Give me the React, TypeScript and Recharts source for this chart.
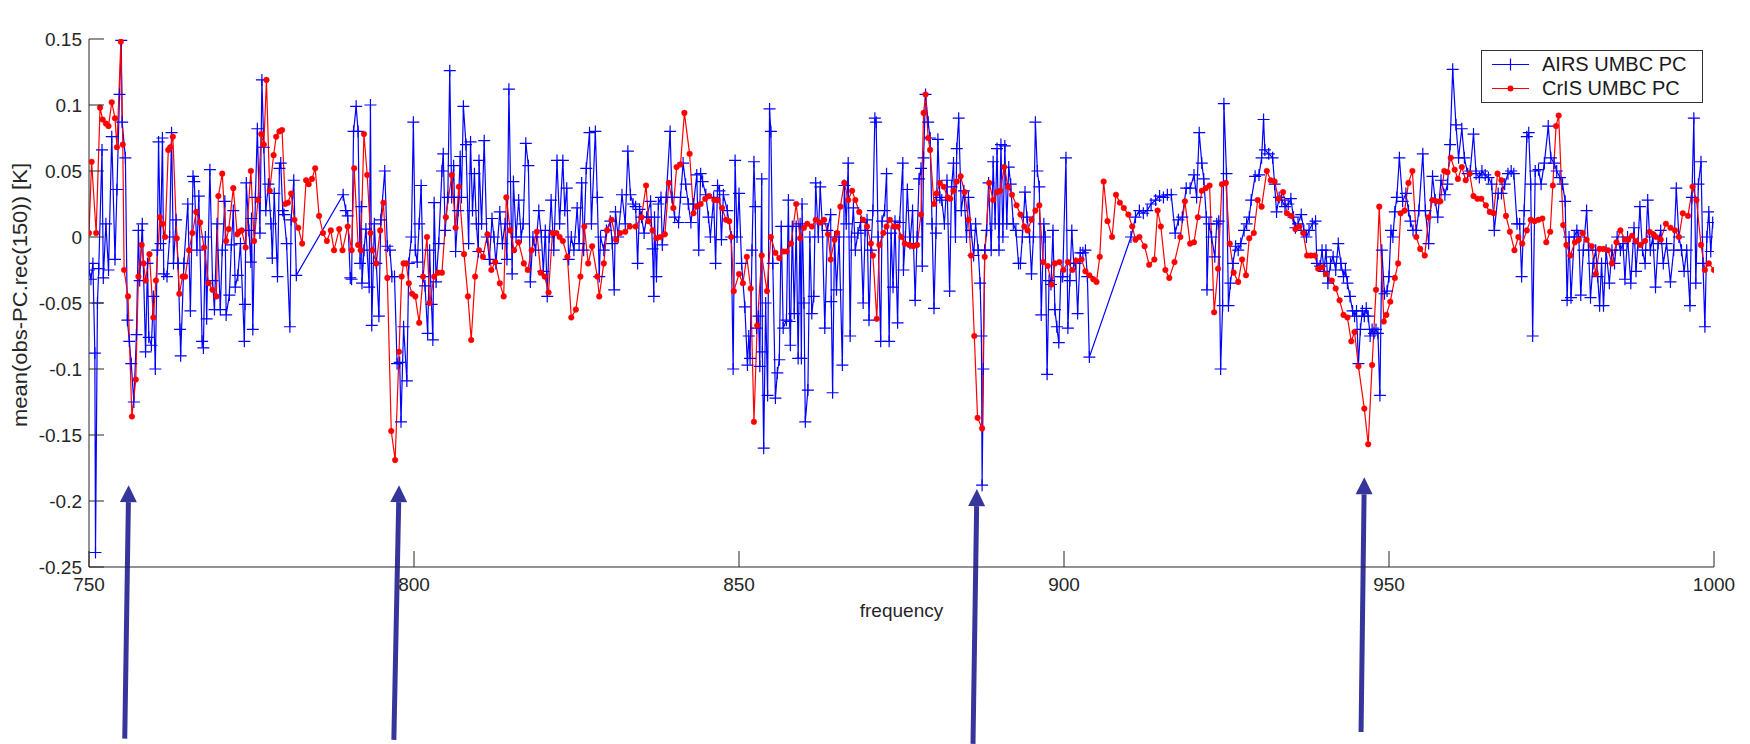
import { LineChart, Line, XAxis, YAxis, ReferenceLine, Legend } from "recharts";

const TITLE = "AIRS and CrIS clear Tropical Ocean SNO from April 2014";
const X_LABEL = "frequency";
const Y_LABEL = "mean(obs-PC.rec(150)) [K]";

const xTicks = [750, 800, 850, 900, 950, 1000];
const yTicks = [-0.25, -0.2, -0.15, -0.1, -0.05, 0, 0.05, 0.1, 0.15];

// AIRS UMBC PC  [frequency, value]
const airs750: [number, number][] = [
  [750.0, -0.025], [750.3, -0.032], [750.6, -0.02], [750.9, -0.088], [751.0, -0.239], [751.3, -0.05], [751.5, -0.024],
  [752.0, 0.066], [752.2, -0.031], [752.6, 0.01], [753.0, -0.025], [753.5, 0.076], [754.0, -0.017], [754.3, 0.036],
  [754.7, 0.108], [754.96, 0.149], [755.1, 0.087], [755.6, 0.06], [755.9, -0.063], [756.2, -0.079], [756.5, -0.096],
  [756.9, -0.125], [757.3, -0.074], [757.6, 0.005], [757.8, -0.033], [758.2, 0.01], [758.7, -0.087], [759.0, -0.02],
  [759.2, -0.076], [759.6, -0.082], [759.9, -0.045], [760.2, -0.1], [760.5, -0.01], [760.7, 0.072], [761.0, -0.005],
  [761.3, 0.075], [761.5, -0.028], [762.0, -0.03], [762.4, 0.0], [762.7, 0.079], [763.0, -0.02], [763.4, 0.013],
  [763.7, -0.02], [764.0, -0.07], [764.1, -0.09], [764.6, -0.02], [765.2, 0.025], [765.6, -0.056], [766.0, 0.046],
  [766.2, 0.042], [766.6, -0.01], [766.9, 0.031], [767.4, -0.079], [767.6, -0.084], [767.9, 0.0], [768.1, -0.062],
  [768.6, 0.051], [769.0, -0.033], [769.3, -0.055], [769.7, 0.01], [770.2, -0.055], [770.5, -0.01], [770.9, 0.027],
  [771.1, -0.059], [771.6, -0.044], [771.9, -0.006], [772.2, 0.02], [772.5, -0.038], [772.9, -0.029], [773.3, -0.005],
  [773.9, -0.079], [774.0, -0.051], [774.2, 0.041], [774.6, 0.005], [774.9, -0.019], [775.0, 0.014], [775.2, -0.07],
  [775.6, 0.03], [775.9, 0.082], [776.3, 0.003], [776.6, 0.119], [776.9, 0.068], [777.2, 0.02], [777.6, 0.04],
  [778.0, 0.01], [778.2, -0.016], [778.5, 0.033], [779.0, -0.03], [779.3, 0.052], [779.5, 0.056], [779.8, 0.02],
  [780.0, 0.017], [780.4, -0.005], [780.9, -0.068], [781.1, 0.013], [781.5, 0.043], [781.9, -0.029], [789.1, 0.032],
  [789.5, 0.02], [789.8, 0.016], [790.2, -0.031], [790.4, -0.032], [790.7, 0.08], [791.1, 0.099], [791.4, 0.08],
  [791.7, -0.02], [791.9, 0.023], [792.0, -0.035], [792.3, -0.01], [792.6, 0.006], [793.1, -0.038], [793.3, 0.1],
  [793.5, -0.067], [793.9, 0.01], [794.2, -0.02], [794.6, -0.06], [794.9, 0.013], [795.5, 0.05], [795.9, -0.007],
  [796.3, -0.01], [796.6, -0.03], [797.0, -0.03], [797.4, -0.096], [797.8, -0.095], [798.0, -0.14], [798.4, -0.068],
  [798.9, -0.109], [799.2, -0.02], [799.6, 0.0], [799.9, 0.087],
];

const airs800: [number, number][] = [
  [800.2, -0.01], [800.5, -0.019], [800.8, 0.01], [801.1, 0.039], [801.4, -0.03], [801.7, -0.037], [802.1, -0.073],
  [802.4, -0.01], [802.7, -0.051], [802.9, -0.078], [803.1, 0.026], [803.4, -0.034], [803.8, -0.005], [804.3, 0.05],
  [804.5, 0.063], [804.8, 0.005], [805.2, 0.03], [805.5, 0.126], [805.8, 0.03], [806.1, 0.054], [806.4, -0.011],
  [806.8, 0.02], [807.1, 0.061], [807.3, 0.03], [807.6, 0.099], [808.0, 0.07], [808.4, -0.005], [808.7, 0.072],
  [809.0, 0.02], [809.3, 0.048], [809.6, 0.01], [809.9, -0.011], [810.0, 0.058], [810.4, 0.01], [810.8, 0.073],
  [811.2, 0.0], [811.6, -0.017], [812.0, 0.014], [812.3, 0.0], [812.6, -0.02], [813.2, 0.019], [813.6, -0.005],
  [814.0, 0.01], [814.3, -0.017], [814.6, 0.112], [815.1, -0.028], [815.3, 0.042], [815.7, 0.0], [816.1, 0.028],
  [816.5, 0.0], [816.8, 0.01], [817.2, 0.071], [817.6, 0.054], [817.9, -0.034], [818.3, 0.0], [818.7, -0.01],
  [819.2, 0.02], [819.6, 0.0], [819.9, -0.026], [820.2, 0.005], [820.5, -0.045], [820.8, 0.0], [821.1, 0.028],
  [821.5, -0.01], [822.0, 0.058], [822.4, 0.01], [822.9, 0.058], [823.2, 0.02], [823.5, 0.037], [823.8, -0.017],
  [824.2, 0.0], [824.6, -0.01], [825.1, 0.022], [825.4, -0.005], [825.8, 0.041], [826.1, -0.01], [826.5, 0.052],
  [827.0, 0.079], [827.3, 0.01], [827.9, 0.08], [828.2, 0.03], [828.5, -0.03], [828.7, 0.0], [829.2, -0.01],
  [829.6, 0.005], [830.2, 0.012], [830.5, -0.005], [830.8, -0.04], [831.0, 0.019], [831.4, 0.0], [832.0, 0.032],
  [832.5, 0.01], [832.9, 0.065], [833.3, 0.032], [833.7, 0.025], [834.1, 0.023], [834.4, -0.02], [834.7, 0.021],
  [835.0, 0.015], [835.4, 0.003], [835.8, 0.015], [836.4, 0.027], [836.7, -0.009], [836.9, -0.045], [837.0, 0.015],
  [837.3, -0.03], [837.6, 0.025], [838.0, 0.03], [838.2, -0.006], [838.8, 0.03], [839.4, 0.08], [839.7, 0.03],
  [840.1, 0.015], [840.7, 0.011], [841.0, 0.03], [841.4, 0.056], [841.8, 0.04], [842.2, 0.025], [842.6, 0.011],
  [843.0, 0.025], [843.5, 0.047], [843.8, -0.01], [844.1, 0.048], [844.4, 0.042], [844.9, 0.032], [845.3, 0.015],
  [845.6, 0.0], [846.1, 0.03], [846.4, -0.02], [846.7, 0.039], [847.0, 0.035], [847.3, -0.002], [847.6, 0.032],
  [848.2, 0.02], [848.8, 0.0], [849.1, -0.1], [849.4, 0.058], [849.7, 0.0],
];

const airs850: [number, number][] = [
  [850.0, 0.033], [850.4, -0.02], [850.9, -0.053], [851.3, -0.097], [851.5, -0.075], [851.7, -0.092], [852.0, -0.01],
  [852.3, 0.057], [852.5, 0.023], [852.7, -0.069], [853.0, -0.06], [853.2, -0.098], [853.5, 0.044], [853.6, -0.087],
  [853.8, -0.16], [854.1, -0.05], [854.4, -0.12], [854.7, 0.097], [854.9, 0.08], [855.2, -0.02], [855.6, -0.122],
  [855.9, -0.103], [856.2, -0.093], [856.5, 0.008], [856.8, -0.069], [857.3, -0.063], [857.6, 0.028], [857.8, -0.064],
  [857.9, -0.082], [858.2, 0.008], [858.5, -0.058], [858.8, 0.008], [859.1, -0.092], [859.4, 0.01], [859.6, -0.092],
  [859.7, 0.025], [860.0, -0.05], [860.2, -0.14], [860.6, -0.116], [860.9, 0.0], [861.2, -0.058], [861.5, -0.045],
  [861.8, 0.041], [862.2, 0.0], [862.5, 0.038], [862.8, 0.01], [863.2, -0.069], [863.6, 0.005], [864.1, 0.017],
  [864.2, -0.049], [864.4, -0.118], [864.7, 0.0], [865.0, -0.04], [865.4, 0.0], [865.9, -0.097], [866.2, 0.039],
  [866.5, 0.01], [866.8, 0.056], [867.1, -0.075], [867.3, 0.0], [867.6, 0.022], [867.9, -0.01], [868.3, 0.003],
  [868.7, 0.011], [869.1, -0.05], [869.4, 0.005], [869.7, 0.013], [870.0, -0.063], [870.3, -0.01], [870.6, 0.02],
  [870.9, 0.09], [871.1, 0.087], [871.4, 0.0], [871.8, -0.079], [872.0, 0.012], [872.4, 0.02], [872.7, 0.048],
  [873.1, -0.079], [873.4, 0.003], [873.7, -0.038], [874.0, 0.012], [874.4, -0.065], [874.7, 0.011], [875.2, 0.056],
  [875.3, -0.025], [875.6, 0.0], [875.9, 0.036], [876.3, -0.005], [876.7, 0.02], [877.1, -0.048], [877.4, 0.0],
  [877.7, 0.044], [878.0, 0.052], [878.2, -0.022], [878.4, 0.06], [878.7, 0.108], [879.1, 0.087], [879.4, 0.075],
  [879.7, 0.01], [880.0, -0.054], [880.3, 0.003], [880.6, 0.074], [880.9, 0.03], [881.2, 0.028], [881.6, 0.01],
  [882.0, 0.043], [882.4, -0.041], [882.7, 0.038], [883.0, 0.056], [883.3, 0.0], [883.5, 0.067], [883.8, 0.09],
  [884.2, 0.02], [884.6, 0.035], [885.0, 0.0], [885.3, 0.03], [885.7, 0.005], [886.1, -0.014], [886.4, 0.01],
  [886.8, -0.01], [887.1, -0.035], [887.3, -0.075], [887.4, -0.188], [887.6, -0.1], [887.8, -0.01], [888.1, 0.005],
  [888.4, 0.041], [888.8, -0.01], [889.1, 0.057], [889.4, 0.01], [889.7, 0.067], [890.0, -0.01], [890.3, 0.07],
  [890.6, 0.0], [890.9, 0.069], [891.2, 0.01], [891.5, 0.053], [891.8, 0.04], [892.2, 0.01], [892.6, 0.005],
  [893.0, -0.02], [893.3, -0.02], [893.6, 0.0], [894.0, 0.034], [894.3, 0.015], [894.7, 0.0], [895.0, -0.028],
  [895.3, 0.0], [895.6, 0.087], [895.9, 0.05], [896.2, 0.038], [896.5, -0.059], [896.9, 0.01], [897.1, 0.0],
  [897.4, -0.104], [897.7, -0.033], [898.0, -0.036], [898.3, 0.005], [898.6, -0.055], [898.9, -0.068], [899.2, -0.08],
  [899.5, -0.03], [899.8, -0.03],
];

const airs900: [number, number][] = [
  [900.3, 0.06], [900.6, -0.069], [900.9, -0.033], [901.2, 0.005], [901.5, -0.02], [901.8, -0.02], [902.1, -0.058],
  [902.5, -0.012], [902.9, -0.012], [903.3, -0.01], [903.6, -0.03], [903.9, -0.091], [910.3, 0.0], [911.0, 0.015],
  [911.6, 0.02], [912.2, 0.018], [912.8, 0.02], [913.4, 0.025], [914.1, 0.028], [914.7, 0.031], [915.3, 0.03],
  [915.9, 0.032], [916.5, 0.032], [917.1, 0.003], [917.6, 0.013], [918.2, 0.015], [918.8, 0.037], [919.4, 0.037],
  [920.0, 0.047], [920.4, 0.03], [920.8, 0.079], [921.2, 0.056], [921.5, 0.044], [921.9, 0.015], [922.0, -0.04],
  [922.3, 0.01], [922.7, 0.0], [923.2, -0.015], [923.5, 0.01], [923.8, 0.012], [924.1, -0.1], [924.4, -0.052],
  [924.6, 0.101], [925.0, 0.048], [925.3, -0.052], [925.6, -0.035], [926.0, -0.02], [926.4, -0.007], [926.8, -0.01],
  [927.2, -0.005], [927.7, 0.005], [928.1, 0.01], [928.5, 0.015], [928.8, 0.028], [929.4, 0.046], [930.0, 0.047],
  [930.4, 0.06], [930.7, 0.089], [930.9, 0.066], [931.5, 0.063], [932.1, 0.06], [932.4, 0.04], [932.7, 0.019],
  [933.1, 0.03], [933.5, 0.028], [934.0, 0.023], [934.5, 0.025], [934.9, 0.029], [935.3, 0.015], [935.6, 0.007],
  [936.0, 0.01], [936.5, 0.017], [936.9, 0.005], [937.3, 0.0], [937.7, 0.005], [938.2, 0.01], [938.7, 0.012],
  [938.9, -0.02], [939.4, -0.022], [939.7, -0.01], [940.0, -0.026], [940.3, -0.01], [940.6, -0.035], [941.0, -0.02],
  [941.4, -0.015], [941.8, -0.025], [942.2, -0.005], [942.6, -0.02], [943.0, -0.03], [943.3, -0.025], [943.6, -0.035],
  [944.0, -0.045], [944.4, -0.056], [944.7, -0.06], [945.0, -0.056], [945.3, -0.096], [945.6, -0.07], [945.9, -0.056],
  [946.2, -0.06], [946.5, -0.054], [946.8, -0.06], [947.1, -0.075], [947.4, -0.07], [947.7, -0.073], [948.0, -0.07],
  [948.3, -0.073], [948.6, -0.12], [948.9, -0.01], [949.3, -0.043], [949.7, -0.041],
];

const airs950: [number, number][] = [
  [950.0, -0.03], [950.3, 0.005], [950.6, 0.0], [950.9, 0.019], [951.2, 0.03], [951.6, 0.06], [952.1, 0.027],
  [952.6, 0.033], [953.0, 0.02], [953.3, 0.012], [953.7, 0.005], [954.2, 0.005], [954.6, 0.02], [955.2, 0.063],
  [955.6, 0.02], [956.1, -0.005], [956.7, 0.046], [957.1, 0.028], [957.5, 0.015], [958.0, 0.043], [958.6, 0.032],
  [959.0, 0.04], [959.4, 0.07], [959.8, 0.127], [960.3, 0.085], [960.7, 0.06], [961.2, 0.082], [961.6, 0.06],
  [962.1, 0.048], [962.5, 0.05], [963.0, 0.078], [963.4, 0.048], [963.9, 0.045], [964.3, 0.05], [964.8, 0.047],
  [965.3, 0.045], [965.8, 0.04], [966.2, 0.005], [966.8, 0.033], [967.3, 0.033], [967.8, 0.04], [968.3, 0.048],
  [968.8, 0.05], [969.2, 0.048], [969.7, 0.01], [970.1, 0.01], [970.4, -0.03], [970.8, 0.02], [971.2, 0.076],
  [971.5, 0.079], [971.8, 0.04], [972.1, -0.075], [972.5, 0.05], [973.0, 0.051], [973.4, 0.04], [973.9, 0.056],
  [974.5, 0.084], [974.9, 0.06], [975.4, 0.056], [975.8, 0.05], [976.3, 0.045], [976.7, 0.04], [977.1, 0.027],
  [977.4, -0.048], [977.7, 0.0], [978.0, -0.046], [978.5, 0.0], [978.9, 0.005], [979.2, 0.0], [979.5, -0.044],
  [979.9, -0.01], [980.4, 0.02], [980.7, -0.01], [981.0, -0.046], [981.4, -0.02], [981.8, -0.01], [982.1, -0.03],
  [982.4, -0.052], [982.7, -0.02], [983.0, -0.052], [983.4, -0.01], [983.9, -0.035], [984.3, -0.01], [984.7, -0.02],
  [985.1, 0.0], [985.6, -0.01], [986.0, -0.005], [986.3, -0.032], [986.7, 0.0], [987.2, -0.035], [987.7, 0.007],
  [988.0, -0.026], [988.3, -0.005], [988.6, 0.023], [989.0, -0.01], [989.4, -0.02], [989.8, 0.028], [990.2, -0.01],
  [990.6, 0.0], [991.0, -0.038], [991.4, -0.005], [991.8, 0.005], [992.2, -0.02], [992.7, -0.005], [993.3, -0.034],
  [993.8, -0.01], [994.2, 0.037], [994.6, 0.0], [995.0, -0.01], [995.4, -0.026], [995.8, -0.01], [996.3, -0.052],
  [996.6, 0.03], [996.9, 0.09], [997.2, -0.035], [997.6, 0.04], [998.0, 0.057], [998.3, -0.02], [998.6, -0.068],
  [998.9, 0.0], [999.2, 0.019], [999.5, -0.011], [999.8, 0.011],
];

// CrIS UMBC PC  [frequency, value]
const cris750: [number, number][] = [
  [750.0, 0.003], [750.4, 0.057], [751.1, 0.003], [751.7, 0.098], [752.1, 0.089], [752.6, 0.086], [753.0, 0.084],
  [753.5, 0.102], [754.0, 0.09], [754.3, 0.068], [754.9, 0.148], [755.2, 0.07], [755.4, -0.025], [756.0, -0.045],
  [756.6, -0.136], [757.2, -0.108], [757.6, -0.03], [758.1, -0.006], [758.4, -0.02], [758.7, -0.033], [759.3, -0.013],
  [759.9, -0.061], [760.3, -0.033], [760.9, 0.015], [761.3, 0.01], [761.7, 0.0], [762.2, 0.066], [762.5, 0.068],
  [762.9, 0.076], [763.5, -0.001], [763.9, -0.043], [764.4, -0.03], [764.8, -0.03], [765.4, -0.01], [765.9, 0.003],
  [766.5, 0.019], [767.1, 0.011], [767.7, -0.008], [768.4, -0.035], [769.0, -0.04], [769.6, -0.045], [769.9, 0.031],
  [770.5, 0.048], [771.1, -0.003], [771.5, 0.006], [772.2, 0.037], [772.8, 0.002], [773.1, 0.004], [773.5, 0.005],
  [774.1, -0.008], [774.9, 0.05], [775.4, -0.003], [776.0, 0.028], [776.5, 0.078], [776.9, 0.07], [777.3, 0.119],
  [777.8, 0.035], [778.4, 0.062], [778.8, 0.076], [779.3, 0.08], [779.7, 0.081], [780.2, 0.025], [780.6, 0.026],
  [781.1, 0.033], [781.6, 0.013], [782.2, 0.007], [782.8, -0.005], [783.4, 0.043], [783.8, 0.04], [784.3, 0.044],
  [784.8, 0.052], [785.4, 0.016], [786.0, 0.003], [786.6, -0.003], [787.2, 0.005], [787.7, -0.01], [788.5, 0.006],
  [789.0, -0.01], [789.8, 0.008], [790.4, -0.01], [790.8, 0.052], [791.4, -0.006], [791.8, -0.01], [792.3, 0.078],
  [792.8, 0.047], [793.3, 0.003], [793.6, -0.01], [794.2, -0.02], [794.8, 0.005], [795.3, 0.026], [795.9, -0.031],
  [796.5, -0.147], [797.1, -0.169], [797.7, -0.087], [798.1, -0.03], [798.4, -0.02], [798.8, -0.02], [799.2, -0.035],
  [799.7, -0.043],
];

const cris800: [number, number][] = [
  [800.2, -0.045], [800.8, -0.065], [801.4, -0.03], [802.0, 0.0], [802.4, -0.05], [803.1, -0.03], [803.7, -0.027],
  [804.3, -0.027], [804.9, 0.015], [805.8, 0.047], [806.4, 0.007], [806.9, 0.038], [807.7, -0.013], [808.3, -0.045],
  [808.8, -0.078], [809.4, -0.03], [810.0, -0.01], [810.6, -0.015], [811.3, 0.002], [811.9, -0.025], [812.5, -0.019],
  [813.2, -0.035], [813.8, -0.045], [814.2, 0.03], [814.8, 0.005], [815.4, -0.01], [816.1, -0.004], [816.9, -0.02],
  [817.5, -0.025], [818.1, -0.01], [818.9, 0.004], [819.5, -0.027], [820.1, -0.03], [820.7, -0.042], [821.3, 0.003],
  [821.9, 0.003], [822.4, 0.0], [822.9, -0.003], [823.6, -0.015], [824.2, -0.061], [824.9, -0.055], [825.6, -0.03],
  [826.2, 0.008], [826.8, -0.02], [827.4, -0.007], [828.2, -0.03], [828.5, -0.045], [829.2, -0.02], [829.7, 0.005],
  [830.4, 0.013], [831.1, -0.002], [831.7, 0.003], [832.5, 0.004], [833.2, 0.008], [834.1, 0.008], [835.0, 0.015],
  [835.7, 0.039], [836.1, 0.012], [836.7, 0.005], [837.3, -0.001], [837.9, 0.0], [838.6, 0.002], [839.2, 0.041],
  [839.9, 0.022], [840.4, 0.053], [841.0, 0.055], [841.6, 0.094], [842.4, 0.063], [843.0, 0.018], [843.5, 0.023],
  [844.1, 0.025], [844.8, 0.029], [845.4, 0.031], [846.2, 0.028], [846.7, 0.028], [847.4, 0.022], [848.0, 0.013],
  [848.5, 0.012], [848.8, 0.0], [849.2, -0.041], [850.0, -0.028],
];

const cris850: [number, number][] = [
  [850.6, -0.035], [851.2, -0.015], [851.8, -0.039], [852.3, -0.14], [852.8, -0.067], [853.5, -0.014], [854.3, -0.041],
  [854.9, 0.0], [855.6, -0.012], [856.2, -0.016], [856.8, -0.011], [857.3, -0.011], [858.0, -0.005], [858.8, 0.025],
  [859.4, -0.001], [860.0, 0.007], [860.5, 0.01], [861.2, 0.008], [861.8, 0.013], [862.5, 0.011], [863.1, 0.013],
  [863.7, 0.002], [864.1, -0.017], [864.7, -0.002], [865.1, 0.003], [865.6, 0.023], [866.2, 0.041], [866.8, 0.028],
  [867.4, 0.035], [867.9, 0.028], [868.5, 0.019], [869.1, 0.013], [869.7, 0.008], [870.3, -0.005], [870.6, -0.014],
  [871.2, -0.062], [871.6, -0.006], [872.2, 0.003], [872.7, 0.008], [873.2, 0.013], [873.8, 0.008], [874.4, 0.008],
  [875.0, 0.0], [875.5, -0.005], [876.2, -0.006], [876.8, -0.007], [877.4, -0.006], [878.0, 0.017], [878.4, 0.094],
  [878.7, 0.108], [879.1, 0.075], [879.4, 0.066], [880.0, 0.025], [880.4, 0.033], [880.9, 0.041], [881.5, 0.038],
  [882.1, 0.03], [882.5, 0.029], [883.0, 0.035], [883.5, 0.042], [884.1, 0.046], [884.7, 0.034], [885.3, 0.013],
  [885.7, -0.014], [886.2, -0.075], [886.7, -0.137], [887.4, -0.145], [887.8, -0.015], [888.5, 0.041], [889.1, 0.028],
  [889.7, 0.034], [890.2, 0.035], [890.8, 0.053], [891.4, 0.038], [892.0, 0.032], [892.7, 0.024], [893.3, 0.017],
  [893.9, 0.008], [894.4, 0.005], [895.0, 0.013], [895.6, 0.02], [896.2, 0.024], [896.8, -0.019], [897.5, -0.022],
  [898.1, -0.036], [898.6, -0.02], [899.3, -0.019], [899.9, -0.025],
];

const cris900: [number, number][] = [
  [900.6, -0.019], [901.3, -0.025], [901.9, -0.018], [902.7, -0.017], [903.3, -0.026], [903.9, -0.029], [904.5, -0.032],
  [905.0, -0.034], [905.5, -0.015], [906.1, 0.042], [906.7, 0.012], [907.4, 0.0], [908.0, 0.032], [908.6, 0.026],
  [909.2, 0.022], [909.9, 0.017], [910.5, 0.008], [911.0, -0.002], [911.6, 0.0], [912.4, -0.007], [913.1, -0.021],
  [913.9, -0.017], [914.4, 0.02], [914.9, 0.008], [915.6, -0.025], [916.2, -0.031], [917.0, -0.019], [917.9, 0.0],
  [918.6, 0.027], [919.4, -0.005], [920.0, -0.004], [920.6, 0.015], [921.2, 0.035], [921.8, 0.037], [922.4, 0.039],
  [923.1, -0.057], [923.7, -0.024], [924.3, 0.04], [924.9, 0.041], [925.5, -0.005], [926.1, -0.027], [926.8, -0.034],
  [927.4, -0.017], [928.0, -0.029], [928.5, -0.001], [929.2, 0.003], [929.8, 0.028], [930.4, 0.023], [931.2, 0.05],
  [931.8, 0.043], [932.4, 0.042], [933.0, 0.029], [933.7, 0.034], [934.3, 0.018], [935.0, 0.016], [935.6, 0.006],
  [936.2, 0.008], [936.8, 0.003], [937.4, -0.014], [938.0, -0.014], [938.6, -0.014], [939.1, -0.024], [939.7, -0.023],
  [940.3, -0.028], [941.2, -0.033], [941.8, -0.039], [942.4, -0.048], [943.0, -0.059], [943.6, -0.061], [944.2, -0.079],
  [944.7, -0.072], [945.3, -0.098], [946.2, -0.13], [946.8, -0.157], [947.4, -0.097], [948.0, -0.04], [948.5, 0.023],
  [949.2, -0.064], [949.6, -0.059], [950.2, -0.049],
];

const cris950: [number, number][] = [
  [950.9, -0.031], [951.4, -0.02], [951.8, 0.018], [952.4, 0.02], [953.0, 0.041], [953.6, 0.05], [954.2, 0.0],
  [954.8, -0.009], [955.5, -0.014], [956.1, 0.015], [956.7, 0.028], [957.3, 0.027], [957.9, 0.027], [958.5, 0.05],
  [959.0, 0.049], [959.5, 0.06], [960.1, 0.051], [960.6, 0.044], [961.2, 0.053], [961.8, 0.043], [962.4, 0.048],
  [963.0, 0.031], [963.6, 0.029], [964.2, 0.029], [964.9, 0.024], [965.5, 0.019], [966.1, 0.018], [966.7, 0.048],
  [967.3, 0.043], [968.0, 0.016], [968.6, 0.004], [969.3, -0.01], [969.9, 0.0], [970.5, -0.005], [971.2, 0.005],
  [971.8, 0.013], [972.4, 0.012], [973.0, 0.013], [973.6, 0.014], [974.2, -0.004], [974.8, 0.004], [975.2, 0.039],
  [975.7, 0.084], [976.1, 0.092], [976.8, 0.009], [977.3, -0.006], [977.9, -0.014], [978.6, -0.004], [979.2, -0.002],
  [979.8, 0.003], [980.4, -0.002], [981.2, -0.007], [981.8, -0.028], [982.4, -0.009], [983.0, -0.009], [983.7, -0.01],
  [984.3, -0.02], [985.0, -0.004], [985.6, 0.005], [986.3, -0.002], [986.8, -0.002], [987.4, 0.001], [988.0, -0.003],
  [988.7, -0.006], [989.4, -0.003], [990.1, 0.004], [990.7, 0.002], [991.1, 0.0], [991.8, -0.002], [992.6, 0.01],
  [993.3, 0.007], [994.0, 0.005], [994.6, 0.0], [995.2, 0.018], [996.0, 0.016], [996.7, 0.038], [997.3, 0.028],
  [998.0, -0.006], [998.6, -0.025], [999.2, -0.02], [1000.0, -0.025],
];

// annotation arrows: [tail freq, tail value, tip freq, tip value]
const arrows: [number, number, number, number][] = [
  [755.5, -0.38, 756.1, -0.188],
  [796.9, -0.381, 797.7, -0.188],
  [886.0, -0.384, 886.6, -0.191],
  [945.7, -0.375, 946.2, -0.182],
];

const toPoints = (rows: [number, number][][]) => rows.flat().map(([f, v]) => ({ f, v }));
const airsData = toPoints([airs750, airs800, airs850, airs900, airs950]);
const crisData = toPoints([cris750, cris800, cris850, cris900, cris950]);

const INK = "#262626";
const BLUE = "#0000ff";
const RED = "#ff0000";
const ARROW = "#35359b";
const FONT = '"Liberation Sans", Arial, Helvetica, sans-serif';

function BottomTick(p: any) {
  const { x, y, payload } = p;
  return (
    <g>
      <line x1={x} y1={y} x2={x} y2={y - 16} stroke={INK} />
      <text x={x} y={y + 24} textAnchor="middle" fontSize={19} fill={INK}>{payload.value}</text>
    </g>
  );
}

function TopTick(p: any) {
  return <line x1={p.x} y1={p.y} x2={p.x} y2={p.y + 16} stroke={INK} />;
}

function LeftTick(p: any) {
  const { x, y, payload } = p;
  return (
    <g>
      <line x1={x} y1={y} x2={x + 15} y2={y} stroke={INK} />
      <text x={x - 7} y={y + 7} textAnchor="end" fontSize={19} fill={INK}>{payload.value}</text>
    </g>
  );
}

function RightTick(p: any) {
  return <line x1={p.x} y1={p.y} x2={p.x - 16} y2={p.y} stroke={INK} />;
}

function yLabel(p: any) {
  const vb = p.viewBox;
  const cx = vb.x + 20;
  const cy = vb.y + vb.height / 2 - 8;
  return (
    <text x={cx} y={cy} transform={`rotate(-90 ${cx} ${cy})`} textAnchor="middle" dominantBaseline="central"
      fontSize={20} fill={INK} textLength={264} lengthAdjust="spacingAndGlyphs">
      {Y_LABEL}
    </text>
  );
}

function crossDot(p: any) {
  const { cx, cy, index } = p;
  if (cx == null || cy == null) return <g key={`a${index}`} />;
  return <path key={`a${index}`} d={`M${cx - 6},${cy}H${cx + 6}M${cx},${cy - 6}V${cy + 6}`} stroke={BLUE} strokeWidth={1.2} fill="none" />;
}

function arrowShape(p: any) {
  const { x1, y1, x2, y2 } = p;
  const len = Math.hypot(x2 - x1, y2 - y1);
  const ux = (x2 - x1) / len;
  const uy = (y2 - y1) / len;
  const bx = x2 - ux * 17;
  const by = y2 - uy * 17;
  return (
    <g>
      <line x1={x1} y1={y1} x2={bx} y2={by} stroke={ARROW} strokeWidth={5} />
      <polygon points={`${x2},${y2} ${bx - uy * 8.5},${by + ux * 8.5} ${bx + uy * 8.5},${by - ux * 8.5}`} fill={ARROW} />
    </g>
  );
}

function legendContent(props: any) {
  const items = props.payload || [];
  return (
    <div style={{ position: "relative", width: 222, height: 53, boxSizing: "border-box", border: "1.5px solid #333", background: "#fff" }}>
      {items.map((item: any, i: number) => (
        <div key={item.value} style={{ position: "absolute", left: 0, top: 2 + i * 23.5, height: 23, display: "flex", alignItems: "center" }}>
          <svg width={60} height={23} style={{ display: "block" }}>
            <line x1={10} y1={11.5} x2={47} y2={11.5} stroke={i === 0 ? BLUE : RED} strokeWidth={1.2} />
            {i === 0
              ? <path d="M28.5,5.5V17.5" stroke={BLUE} strokeWidth={1.2} />
              : <circle cx={28.5} cy={11.5} r={3} fill={RED} />}
          </svg>
          <span style={{ fontSize: 20, color: "#1a1a1a", lineHeight: "23px" }}>{item.value}</span>
        </div>
      ))}
    </div>
  );
}

export default function App() {
  return (
    <div style={{ position: "absolute", left: 0, top: 0, width: 1750, height: 744, background: "#fff", fontFamily: FONT }}>
      <LineChart width={1750} height={744} margin={{ top: 39, right: 36, bottom: 117, left: 0 }}>
        <XAxis xAxisId="b" type="number" dataKey="f" domain={[750, 1000]} ticks={xTicks} interval={0} allowDataOverflow
          height={60} tickSize={0} tickMargin={0} tick={BottomTick} axisLine={{ stroke: INK }}
          label={{ value: X_LABEL, position: "insideBottom", offset: 10, fontSize: 19, fill: INK }} />
        <XAxis xAxisId="t" orientation="top" type="number" domain={[750, 1000]} ticks={xTicks} interval={0} allowDataOverflow
          height={0} tickSize={0} tickMargin={0} tick={TopTick} axisLine={{ stroke: INK }}
          label={{ value: TITLE, position: "top", offset: 15, fontSize: 20, fill: INK }} />
        <YAxis yAxisId="l" type="number" domain={[-0.25, 0.15]} ticks={yTicks} interval={0} allowDataOverflow
          width={89} tickSize={0} tickMargin={0} tick={LeftTick} axisLine={{ stroke: INK }} label={yLabel} />
        <YAxis yAxisId="r" orientation="right" type="number" domain={[-0.25, 0.15]} ticks={yTicks} interval={0} allowDataOverflow
          width={0} tickSize={0} tickMargin={0} tick={RightTick} axisLine={{ stroke: INK }} />
        <Line xAxisId="b" yAxisId="l" data={airsData} dataKey="v" name="AIRS UMBC PC" type="linear"
          stroke={BLUE} strokeWidth={1.2} dot={crossDot} activeDot={false} isAnimationActive={false} />
        <Line xAxisId="b" yAxisId="l" data={crisData} dataKey="v" name="CrIS UMBC PC" type="linear"
          stroke={RED} strokeWidth={1.2} dot={{ r: 2.8, fill: RED, stroke: RED, strokeWidth: 0.5 }} activeDot={false} isAnimationActive={false} />
        {arrows.map(([f0, v0, f1, v1], i) => (
          <ReferenceLine key={`arrow${i}`} xAxisId="b" yAxisId="l" ifOverflow="visible"
            segment={[{ x: f0, y: v0 }, { x: f1, y: v1 }]} shape={arrowShape} />
        ))}
        <Legend layout="vertical" align="center" verticalAlign="middle" content={legendContent}
          wrapperStyle={{ left: 1481, top: 50, width: 222, height: 53 }} />
      </LineChart>
    </div>
  );
}
